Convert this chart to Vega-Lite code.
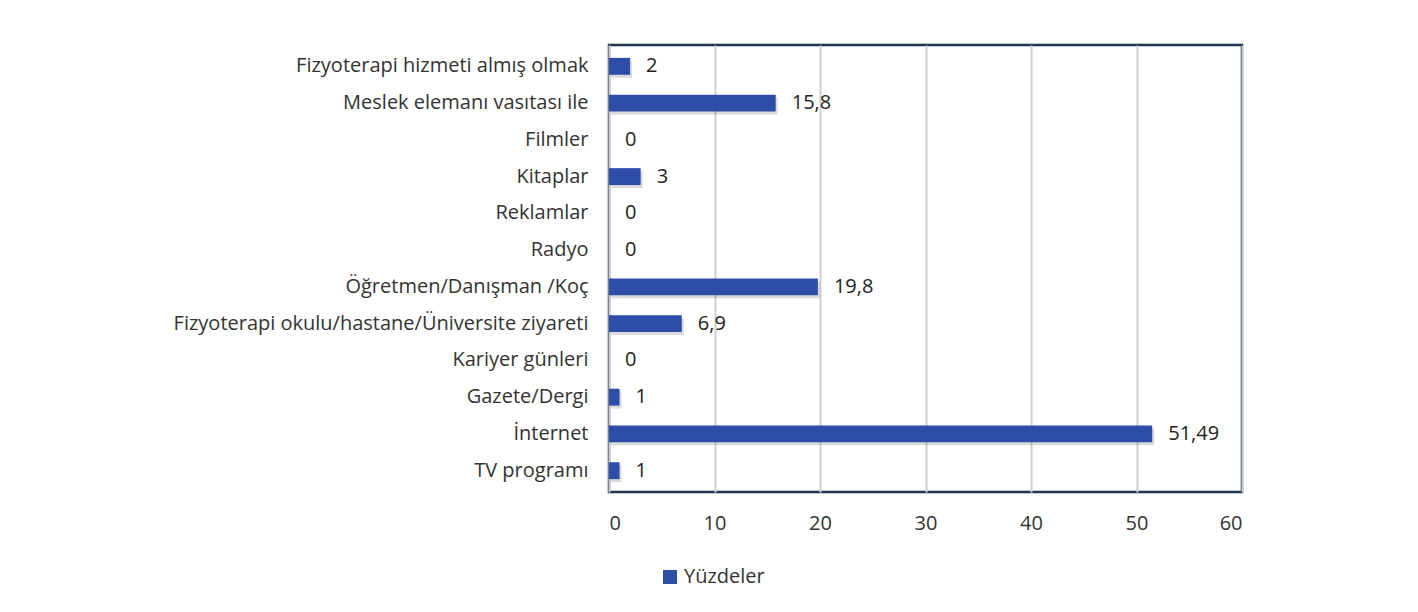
{
  "$schema": "https://vega.github.io/schema/vega-lite/v6.json",
  "autosize": {"type": "none"},
  "padding": {"left": 609, "top": 45, "right": 176, "bottom": 120},
  "width": 633,
  "height": 447,
  "background": "white",
  "data": {"values": [
    {"kategori": "Fizyoterapi hizmeti almış olmak", "deger": 2, "etiket": "2", "seri": "Yüzdeler"},
    {"kategori": "Meslek elemanı vasıtası ile", "deger": 15.8, "etiket": "15,8", "seri": "Yüzdeler"},
    {"kategori": "Filmler", "deger": 0, "etiket": "0", "seri": "Yüzdeler"},
    {"kategori": "Kitaplar", "deger": 3, "etiket": "3", "seri": "Yüzdeler"},
    {"kategori": "Reklamlar", "deger": 0, "etiket": "0", "seri": "Yüzdeler"},
    {"kategori": "Radyo", "deger": 0, "etiket": "0", "seri": "Yüzdeler"},
    {"kategori": "Öğretmen/Danışman /Koç", "deger": 19.8, "etiket": "19,8", "seri": "Yüzdeler"},
    {"kategori": "Fizyoterapi okulu/hastane/Üniversite ziyareti", "deger": 6.9, "etiket": "6,9", "seri": "Yüzdeler"},
    {"kategori": "Kariyer günleri", "deger": 0, "etiket": "0", "seri": "Yüzdeler"},
    {"kategori": "Gazete/Dergi", "deger": 1, "etiket": "1", "seri": "Yüzdeler"},
    {"kategori": "İnternet", "deger": 51.49, "etiket": "51,49", "seri": "Yüzdeler"},
    {"kategori": "TV programı", "deger": 1, "etiket": "1", "seri": "Yüzdeler"}
  ]},
  "encoding": {
    "y": {
      "field": "kategori", "type": "nominal", "sort": null,
      "scale": {"paddingInner": 0.54, "paddingOuter": 0.35},
      "axis": {"title": null, "ticks": false, "domain": false, "labelPadding": 21, "labelFontSize": 20, "labelColor": "#333333", "labelFont": "Open Sans", "labelLimit": 600}
    },
    "x": {
      "field": "deger", "type": "quantitative",
      "scale": {"domain": [0, 60], "nice": false},
      "axis": {"title": null, "values": [0, 10, 20, 30, 40, 50, 60], "ticks": false, "domain": false, "labelPadding": 21, "labelFontSize": 20, "labelColor": "#333333", "labelFont": "Open Sans", "gridColor": "#d0d0d0", "gridWidth": 2}
    }
  },
  "layer": [
    {
      "mark": {"type": "bar", "color": "#000000", "opacity": 0.14, "xOffset": 2, "yOffset": 3}
    },
    {
      "mark": {"type": "bar", "color": "#2E4DA7"},
      "encoding": {
        "color": {
          "field": "seri", "type": "nominal",
          "scale": {"range": ["#2E4DA7"]},
          "legend": {"title": null, "orient": "none", "legendX": 51, "legendY": 522, "symbolType": "square", "symbolSize": 196, "symbolStrokeWidth": 0, "labelFontSize": 20, "labelFont": "Open Sans", "labelColor": "#333333", "labelOffset": 4}
        }
      }
    },
    {
      "mark": {"type": "text", "align": "left", "dx": 16, "fontSize": 20, "font": "Open Sans", "color": "#222222"},
      "encoding": {"text": {"field": "etiket", "type": "nominal"}}
    }
  ],
  "config": {
    "view": {"stroke": "#1F3552", "strokeWidth": 2.5}
  }
}
